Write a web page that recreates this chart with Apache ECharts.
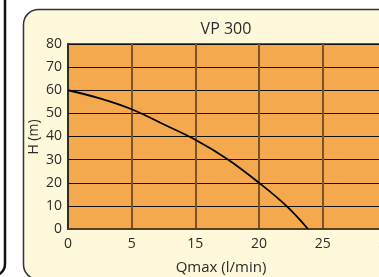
<!DOCTYPE html>
<html>
<head>
<meta charset="utf-8">
<script src="https://cdn.jsdelivr.net/npm/echarts@6/dist/echarts.min.js"></script>
<style>
  html, body { margin: 0; padding: 0; background: #fff; }
  #chart { width: 379px; height: 277px; }
</style>
</head>
<body>
<div id="chart"></div>
<script>
// x axis is drawn with even spacing, labels as printed on the sheet
const xTickLabels = ['0', '5', '15', '20', '25', '30'];
const yTicks = [0, 10, 20, 30, 40, 50, 60, 70, 80];
// pump curve, x in tick-slot units
const curveQ = [0, 0.5, 1, 1.5, 2, 2.5, 3, 3.43, 3.77];
const curveH = [60, 56.5, 51.8, 45.3, 38.6, 30.3, 20, 10, 0];

const chart = echarts.init(document.getElementById('chart'));
const font = '"Open Sans", "Noto Sans", sans-serif';

chart.setOption({
  animation: false,
  backgroundColor: '#fff',
  graphic: [
    // neighbouring panel edge on the left
    {
      type: 'rect', z: -10,
      shape: { x: -400, y: -20, width: 405, height: 296, r: 12 },
      style: { fill: '#fff', stroke: '#111', lineWidth: 2.5 }
    },
    {
      type: 'rect', z: -10,
      shape: { x: 23.5, y: 9.5, width: 420, height: 270, r: 15 },
      style: { fill: '#FFF9DB', stroke: '#333', lineWidth: 1.5 }
    },
    {
      type: 'text', z: 10,
      style: {
        x: 221, y: 268, text: 'Qmax (l/min)', align: 'center', verticalAlign: 'middle',
        font: '15px ' + font, fill: '#2b2b2b'
      }
    },
    {
      type: 'text', z: 10, x: 34, y: 137, rotation: Math.PI / 2,
      style: {
        text: 'H (m)', align: 'center', verticalAlign: 'middle',
        font: '14px ' + font, fill: '#2b2b2b'
      }
    }
  ],
  title: {
    text: 'VP 300',
    left: 221, top: 16, textAlign: 'center',
    textStyle: { fontFamily: font, fontSize: 16, fontWeight: 'normal', color: '#2b2b2b' }
  },
  grid: {
    left: 68, top: 44, width: 382, height: 185,
    outerBoundsMode: 'none', containLabel: false,
    show: true, backgroundColor: '#F5A94F', borderColor: '#7a5428', borderWidth: 2
  },
  xAxis: {
    type: 'value', min: 0, max: 6, interval: 1,
    axisLine: { show: true, lineStyle: { color: '#5a3d1c', width: 2 } },
    axisTick: { show: false },
    axisLabel: {
      margin: 8, fontFamily: font, fontSize: 14, color: '#2b2b2b',
      formatter: v => xTickLabels[v]
    },
    splitLine: { show: true, lineStyle: { color: '#7a5428', width: 2 } }
  },
  yAxis: {
    type: 'value', min: yTicks[0], max: yTicks[yTicks.length - 1], interval: 10,
    axisLine: { show: true, lineStyle: { color: '#3a2a14', width: 2 } },
    axisTick: { show: false },
    axisLabel: { margin: 6, fontFamily: font, fontSize: 14, color: '#2b2b2b' },
    splitLine: { show: true, lineStyle: { color: '#111', width: 1 } }
  },
  series: [{
    type: 'line',
    data: curveQ.map((q, i) => [q, curveH[i]]),
    smooth: 0.4,
    showSymbol: false,
    lineStyle: { color: '#000', width: 1.8 },
    z: 5
  }]
});
</script>
</body>
</html>
